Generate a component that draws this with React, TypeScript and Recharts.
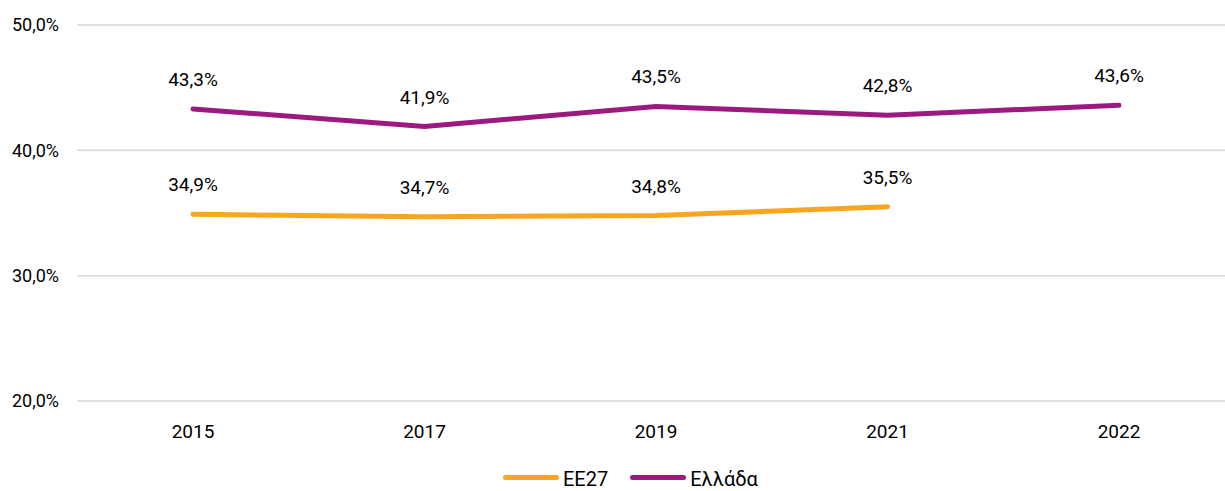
import React from 'react';
import {
  LineChart,
  Line,
  XAxis,
  YAxis,
  CartesianGrid,
  Legend,
  LabelList,
} from 'recharts';

const years = ['2015', '2017', '2019', '2021', '2022'];
const eu27 = [34.9, 34.7, 34.8, 35.5, null];
const greece = [43.3, 41.9, 43.5, 42.8, 43.6];
const yTicks = [20, 30, 40, 50];

const ORANGE = '#F8A51F';
const PURPLE = '#9C1A7F';
const FONT = 'Roboto, "DejaVu Sans", sans-serif';

const data = years.map((year, i) => ({ year, eu27: eu27[i], greece: greece[i] }));

const fmt = (v: number) => `${v.toFixed(1).replace('.', ',')}%`;

// Legend: line icon + label
function LegendContent() {
  const items = [
    { name: 'ΕΕ27', color: ORANGE },
    { name: 'Ελλάδα', color: PURPLE },
  ];
  return (
    <div style={{ display: 'flex', paddingLeft: 503, paddingTop: 24, fontFamily: FONT }}>
      {items.map((it) => (
        <div key={it.name} style={{ display: 'flex', alignItems: 'center', marginRight: 22 }}>
          <span
            style={{
              display: 'inline-block',
              width: 56,
              height: 5,
              borderRadius: 3,
              background: it.color,
              marginRight: 4,
            }}
          />
          <span style={{ fontSize: 20, color: '#000', position: 'relative', top: 2 }}>{it.name}</span>
        </div>
      ))}
    </div>
  );
}

export default function App() {
  return (
    <div style={{ position: 'absolute', left: 0, top: 0, width: 1225, height: 491, overflow: 'hidden', background: '#fff' }}>
      <LineChart
        width={1235}
        height={491}
        data={data}
        margin={{ top: 25, right: 0, left: 0, bottom: 0 }}
        style={{ fontFamily: FONT }}
      >
        <CartesianGrid vertical={false} stroke="#D9D9D9" strokeWidth={1.5} />
        <XAxis
          dataKey="year"
          axisLine={false}
          tickLine={false}
          height={40}
          tickMargin={18}
          padding={{ left: 116, right: 116 }}
          tick={{ fontSize: 19, fill: '#000' }}
        />
        <YAxis
          domain={[20, 50]}
          ticks={yTicks}
          width={77}
          axisLine={false}
          tickLine={false}
          tickMargin={12}
          tickFormatter={fmt}
          tick={{ fontSize: 18, fill: '#000' }}
        />
        <Legend verticalAlign="bottom" wrapperStyle={{ height: 50 }} content={<LegendContent />} />
        <Line
          dataKey="eu27"
          name="ΕΕ27"
          stroke={ORANGE}
          strokeWidth={5}
          strokeLinecap="round"
          dot={false}
          isAnimationActive={false}
        >
          <LabelList dataKey="eu27" position="top" offset={23} formatter={(v: any) => (v == null ? '' : fmt(Number(v)))} style={{ fontSize: 19, fill: '#000' }} />
        </Line>
        <Line
          dataKey="greece"
          name="Ελλάδα"
          stroke={PURPLE}
          strokeWidth={5}
          strokeLinecap="round"
          dot={false}
          isAnimationActive={false}
        >
          <LabelList dataKey="greece" position="top" offset={23} formatter={(v: any) => fmt(Number(v))} style={{ fontSize: 19, fill: '#000' }} />
        </Line>
      </LineChart>
    </div>
  );
}
